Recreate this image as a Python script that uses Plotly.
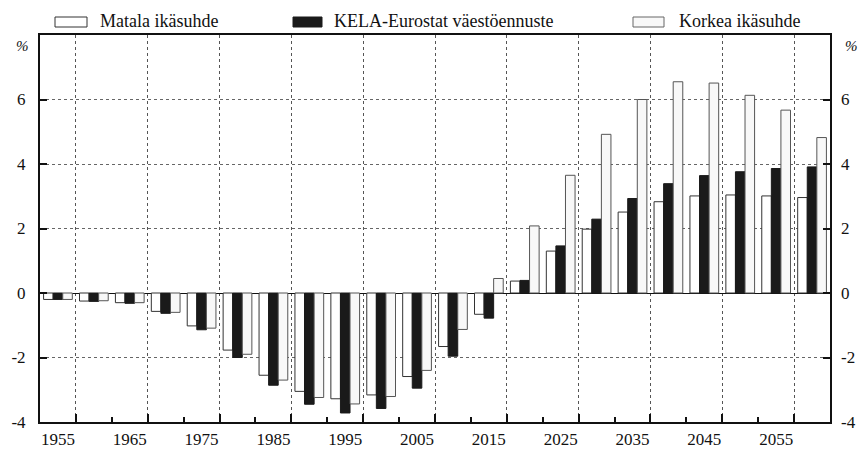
import plotly.graph_objects as go

years = list(range(1955, 2061, 5))
matala = [-0.2, -0.25, -0.3, -0.57, -1.02, -1.77, -2.55, -3.05, -3.28, -3.16, -2.59, -1.66,
          -0.66, 0.37, 1.30, 1.98, 2.51, 2.83, 3.01, 3.04, 3.01, 2.96]
kela = [-0.2, -0.26, -0.32, -0.63, -1.14, -2.0, -2.86, -3.45, -3.72, -3.58, -2.95, -1.96,
        -0.78, 0.39, 1.46, 2.29, 2.93, 3.39, 3.64, 3.76, 3.86, 3.91]
korkea = [-0.2, -0.24, -0.3, -0.6, -1.09, -1.9, -2.7, -3.24, -3.44, -3.21, -2.40, -1.13,
          0.45, 2.08, 3.65, 4.92, 6.0, 6.55, 6.51, 6.13, 5.67, 4.82]
series_names = ["Matala ikäsuhde", "KELA-Eurostat väestöennuste", "Korkea ikäsuhde"]
label_years = list(range(1955, 2060, 10))
grid_years = [y + 2.5 for y in range(1955, 2060, 10)]
minor_years = [y + 2.5 for y in range(1960, 2060, 10)]
y_ticks = [-4, -2, 0, 2, 4, 6]

W, H = 860, 453
L, R, T, B = 40, 30, 35, 31
FONT = "Liberation Serif, Times New Roman, serif"


def px2paper_x(px):
    return (px - L) / (W - L - R)


def px2paper_y(py):
    return (H - B - py) / (H - T - B)


fig = go.Figure()
fig.add_trace(go.Bar(x=years, y=matala, name=series_names[0],
                     marker=dict(color="white", line=dict(color="#333333", width=1))))
fig.add_trace(go.Bar(x=years, y=kela, name=series_names[1],
                     marker=dict(color="#1a1a1a", line=dict(color="#1a1a1a", width=1))))
fig.add_trace(go.Bar(x=years, y=korkea, name=series_names[2],
                     marker=dict(color="#f8f8f8", line=dict(color="#555555", width=1))))
# invisible helper trace for overlay axes
fig.add_trace(go.Scatter(x=[years[0]], y=[0], xaxis="x2", yaxis="y2", mode="markers",
                         marker=dict(opacity=0), showlegend=False, hoverinfo="skip"))

xr = [1952.5, 2062.5]
yr = [-4, 8]
fig.update_layout(
    width=W, height=H,
    margin=dict(l=L, r=R, t=T, b=B, autoexpand=False),
    paper_bgcolor="white", plot_bgcolor="white",
    barmode="group", bargap=0.2, bargroupgap=0,
    showlegend=False,
    font=dict(family=FONT, size=17, color="#111111"),
    xaxis=dict(range=xr, tickvals=grid_years, ticktext=[""] * len(grid_years),
               ticks="inside", ticklen=8, tickwidth=2, tickcolor="#111111",
               showgrid=True, gridcolor="#555555", griddash="dot", gridwidth=1,
               minor=dict(tickvals=minor_years, ticks="inside", ticklen=5, tickwidth=2,
                          tickcolor="#111111", showgrid=False),
               showline=True, linecolor="#111111", linewidth=2, mirror=True,
               zeroline=False, automargin=False),
    xaxis2=dict(range=xr, overlaying="x", side="bottom", anchor="y",
                tickvals=label_years, ticktext=[str(y) for y in label_years],
                ticks="", showgrid=False, zeroline=False, showline=False,
                ticklabelstandoff=5, automargin=False,
                tickfont=dict(family=FONT, size=17)),
    yaxis=dict(range=yr, tickvals=y_ticks, ticktext=[str(v) for v in y_ticks],
               ticks="inside", ticklen=7, tickwidth=2, tickcolor="#111111",
               showgrid=True, gridcolor="#666666", griddash="3px,3px", gridwidth=1,
               zeroline=True, zerolinecolor="#111111", zerolinewidth=1,
               showline=True, linecolor="#111111", linewidth=2, mirror=True,
               ticklabelstandoff=9, automargin=False,
               tickfont=dict(family=FONT, size=17)),
    yaxis2=dict(range=yr, overlaying="y", side="right", anchor="x",
                tickvals=y_ticks, ticktext=[str(v) for v in y_ticks],
                ticks="inside", ticklen=7, tickwidth=2, tickcolor="#111111",
                showgrid=False, zeroline=False, showline=False,
                ticklabelstandoff=10, automargin=False,
                tickfont=dict(family=FONT, size=17)),
)

# "%" unit labels
for px in (14, 843):
    fig.add_annotation(x=px2paper_x(px), y=px2paper_y(46), xref="paper", yref="paper",
                       text="%", showarrow=False, font=dict(family=FONT, size=15, style="italic"),
                       xanchor="left", yanchor="middle")

# manual legend
legend_items = [
    (55, 87, "white", "#333333", 98),
    (293, 322, "#1a1a1a", "#1a1a1a", 332),
    (633, 664, "#f8f8f8", "#666666", 677),
]
for (x0, x1, fill, line, tx), name in zip(legend_items, series_names):
    fig.add_shape(type="rect", xref="paper", yref="paper",
                  x0=px2paper_x(x0), x1=px2paper_x(x1),
                  y0=px2paper_y(27), y1=px2paper_y(17),
                  fillcolor=fill, line=dict(color=line, width=1))
    fig.add_annotation(x=px2paper_x(tx), y=px2paper_y(21), xref="paper", yref="paper",
                       text=name, showarrow=False, xanchor="left", yanchor="middle",
                       font=dict(family=FONT, size=18))

fig.write_html("out.html", config={"displayModeBar": False},
               post_script="document.body.style.margin='0px';document.body.style.overflow='hidden';")
